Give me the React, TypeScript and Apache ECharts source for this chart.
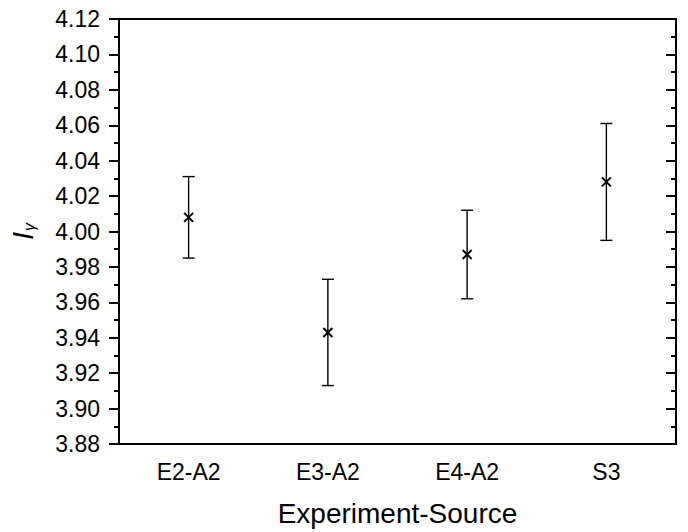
import React, { useEffect, useRef } from "react";
import * as echarts from "echarts";

const categories = ["E2-A2", "E3-A2", "E4-A2", "S3"];
const means = [4.008, 3.943, 3.987, 4.028];
const lows = [3.985, 3.913, 3.962, 3.995];
const highs = [4.031, 3.973, 4.012, 4.061];
const yTicks = { min: 3.88, max: 4.12, interval: 0.02 };

const FONT = "'Liberation Sans', Arial, sans-serif";

export default function App() {
  const ref = useRef<HTMLDivElement>(null);
  useEffect(() => {
    if (!ref.current) return;
    const chart = echarts.init(ref.current, null, { renderer: "svg" });
    const data = categories.map((_, i) => [i, means[i], lows[i], highs[i]]);
    const axisLine = { show: true, lineStyle: { color: "#000", width: 2 } };
    chart.setOption({
      animation: false,
      backgroundColor: "#fff",
      grid: { left: 118, top: 19, right: 12, bottom: 86 },
      xAxis: [
        {
          type: "category",
          data: categories,
          position: "bottom",
          boundaryGap: true,
          axisLine,
          axisTick: { alignWithLabel: true, length: 10, lineStyle: { color: "#000", width: 2 } },
          axisLabel: { color: "#000", fontSize: 23, fontFamily: FONT, margin: 16 },
          name: "Experiment-Source",
          nameLocation: "middle",
          nameGap: 55,
          nameTextStyle: { color: "#000", fontSize: 28, fontFamily: FONT },
          splitLine: { show: false },
        },
        {
          type: "category",
          data: categories,
          position: "top",
          boundaryGap: true,
          axisLine,
          axisTick: { alignWithLabel: true, inside: true, length: 10, lineStyle: { color: "#000", width: 2 } },
          axisLabel: { show: false },
          splitLine: { show: false },
        },
      ],
      yAxis: [
        {
          type: "value",
          min: yTicks.min,
          max: yTicks.max,
          interval: yTicks.interval,
          position: "left",
          axisLine,
          axisTick: { show: true, length: 10, lineStyle: { color: "#000", width: 2 } },
          minorTick: { show: true, splitNumber: 2, length: 5, lineStyle: { color: "#000", width: 2 } },
          axisLabel: {
            color: "#000",
            fontSize: 23,
            fontFamily: FONT,
            margin: 19,
            formatter: (v: number) => v.toFixed(2),
          },
          splitLine: { show: false },
          name: "{i|I}{s|γ}",
          nameLocation: "middle",
          nameRotate: 90,
          nameGap: 82,
          nameTextStyle: {
            color: "#000",
            fontFamily: FONT,
            rich: {
              i: { fontSize: 29, fontStyle: "italic", fontFamily: FONT, color: "#000" },
              s: { fontSize: 16, fontStyle: "italic", fontFamily: FONT, color: "#000", verticalAlign: "bottom", padding: [12, 0, 0, 1] },
            },
          },
        },
        {
          type: "value",
          min: yTicks.min,
          max: yTicks.max,
          interval: yTicks.interval,
          position: "right",
          axisLine,
          axisTick: { show: true, inside: true, length: 10, lineStyle: { color: "#000", width: 2 } },
          minorTick: { show: true, splitNumber: 2, length: 5, lineStyle: { color: "#000", width: 2 } },
          axisLabel: { show: false },
          splitLine: { show: false },
        },
      ],
      series: [
        {
          type: "custom",
          xAxisIndex: 0,
          yAxisIndex: 0,
          data,
          renderItem: (params: any, api: any) => {
            const i = api.value(0);
            const c = api.coord([i, api.value(1)]);
            const lo = api.coord([i, api.value(2)]);
            const hi = api.coord([i, api.value(3)]);
            const cap = 6;
            const m = 4.5;
            const st = { stroke: "#000", lineWidth: 1.4 };
            const st2 = { stroke: "#000", lineWidth: 2 };
            return {
              type: "group",
              children: [
                { type: "line", shape: { x1: lo[0], y1: lo[1], x2: hi[0], y2: hi[1] }, style: st },
                { type: "line", shape: { x1: hi[0] - cap, y1: hi[1], x2: hi[0] + cap, y2: hi[1] }, style: st },
                { type: "line", shape: { x1: lo[0] - cap, y1: lo[1], x2: lo[0] + cap, y2: lo[1] }, style: st },
                { type: "line", shape: { x1: c[0] - m, y1: c[1] - m, x2: c[0] + m, y2: c[1] + m }, style: st2 },
                { type: "line", shape: { x1: c[0] - m, y1: c[1] + m, x2: c[0] + m, y2: c[1] - m }, style: st2 },
              ],
            };
          },
        },
      ],
    });
    return () => chart.dispose();
  }, []);
  return <div ref={ref} style={{ width: 688, height: 532, position: "absolute", left: 0, top: 0 }} />;
}
